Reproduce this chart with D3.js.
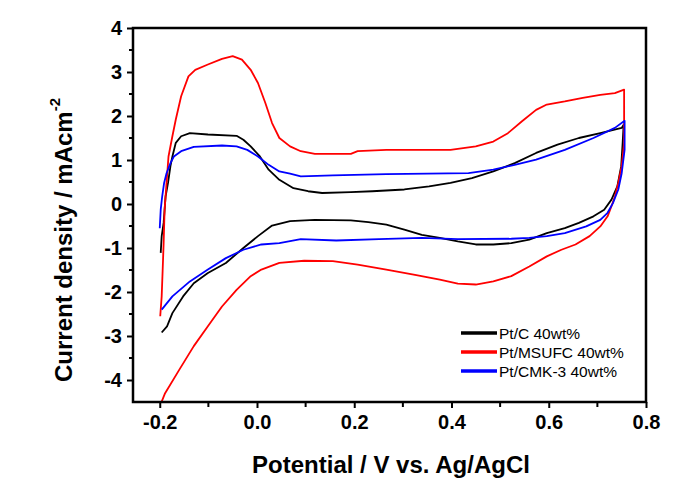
<!DOCTYPE html>
<html><head><meta charset="utf-8">
<script src="https://cdn.jsdelivr.net/npm/d3@7"></script>
<style>body{margin:0;background:#fff}svg{display:block}</style>
</head><body>
<svg id="c" width="691" height="498"></svg>
<script>
// Series data: [potential (V), current density (mA cm^-2)]
const ptC = [[-0.198,-1.11],[-0.196,-0.73],[-0.192,-0.43],[-0.19,-0.13],[-0.188,0.17],[-0.183,0.48],[-0.178,0.86],[-0.174,1.08],[-0.167,1.39],[-0.156,1.54],[-0.138,1.61],[-0.101,1.58],[-0.042,1.55],[-0.028,1.46],[-0.013,1.31],[0.006,1.08],[0.024,0.78],[0.046,0.55],[0.075,0.36],[0.105,0.29],[0.134,0.25],[0.193,0.27],[0.237,0.29],[0.303,0.33],[0.354,0.40],[0.398,0.48],[0.442,0.59],[0.486,0.74],[0.53,0.93],[0.574,1.16],[0.618,1.35],[0.662,1.5],[0.706,1.61],[0.75,1.73],[0.754,1.8],[0.752,1.39],[0.749,0.86],[0.741,0.4],[0.729,0.1],[0.714,-0.13],[0.692,-0.28],[0.662,-0.43],[0.633,-0.55],[0.596,-0.66],[0.56,-0.81],[0.523,-0.89],[0.486,-0.92],[0.45,-0.92],[0.413,-0.85],[0.376,-0.77],[0.339,-0.70],[0.303,-0.58],[0.266,-0.47],[0.229,-0.41],[0.193,-0.37],[0.119,-0.36],[0.068,-0.39],[0.031,-0.49],[0.002,-0.73],[-0.028,-1.0],[-0.064,-1.34],[-0.101,-1.57],[-0.13,-1.8],[-0.152,-2.1],[-0.174,-2.48],[-0.185,-2.78],[-0.196,-2.92]];
const ptMSUFC = [[-0.199,-2.55],[-0.196,-2.1],[-0.194,-1.5],[-0.192,-0.89],[-0.19,-0.13],[-0.186,0.48],[-0.182,1.08],[-0.174,1.54],[-0.167,1.92],[-0.156,2.45],[-0.141,2.9],[-0.127,3.05],[-0.101,3.17],[-0.072,3.3],[-0.05,3.36],[-0.031,3.28],[-0.013,3.05],[0.002,2.75],[0.017,2.3],[0.031,1.84],[0.046,1.5],[0.068,1.31],[0.09,1.2],[0.119,1.14],[0.193,1.14],[0.207,1.2],[0.266,1.23],[0.34,1.23],[0.398,1.23],[0.45,1.31],[0.486,1.42],[0.516,1.61],[0.545,1.88],[0.574,2.14],[0.596,2.26],[0.633,2.33],[0.67,2.41],[0.706,2.48],[0.736,2.52],[0.755,2.6],[0.755,1.39],[0.75,0.86],[0.743,0.48],[0.736,0.17],[0.729,-0.05],[0.721,-0.28],[0.706,-0.51],[0.684,-0.73],[0.655,-0.92],[0.626,-1.04],[0.596,-1.19],[0.56,-1.42],[0.523,-1.64],[0.486,-1.76],[0.45,-1.83],[0.413,-1.81],[0.376,-1.72],[0.325,-1.61],[0.266,-1.49],[0.207,-1.38],[0.156,-1.3],[0.097,-1.29],[0.046,-1.34],[0.009,-1.49],[-0.013,-1.64],[-0.042,-1.95],[-0.072,-2.33],[-0.101,-2.78],[-0.13,-3.23],[-0.16,-3.77],[-0.189,-4.3],[-0.2,-4.6]];
const ptCMK3 = [[-0.2,-0.55],[-0.198,-0.13],[-0.195,0.17],[-0.191,0.48],[-0.186,0.7],[-0.178,0.93],[-0.171,1.08],[-0.156,1.2],[-0.13,1.3],[-0.072,1.33],[-0.042,1.31],[-0.02,1.23],[0.002,1.08],[0.024,0.89],[0.046,0.74],[0.068,0.69],[0.09,0.63],[0.156,0.65],[0.266,0.68],[0.435,0.70],[0.486,0.78],[0.53,0.89],[0.574,1.01],[0.633,1.23],[0.692,1.5],[0.736,1.73],[0.756,1.89],[0.756,1.23],[0.75,0.7],[0.743,0.33],[0.732,0.02],[0.721,-0.2],[0.706,-0.36],[0.677,-0.51],[0.633,-0.66],[0.596,-0.73],[0.56,-0.77],[0.523,-0.79],[0.413,-0.8],[0.339,-0.77],[0.251,-0.8],[0.163,-0.83],[0.09,-0.8],[0.046,-0.89],[0.009,-0.92],[-0.028,-1.04],[-0.064,-1.23],[-0.101,-1.49],[-0.138,-1.76],[-0.174,-2.1],[-0.196,-2.4]];

const seriesNames = ["Pt/C 40wt%", "Pt/MSUFC 40wt%", "Pt/CMK-3 40wt%"];
const seriesColors = ["#000000", "#ff0000", "#0000ff"];
const seriesData = [ptC, ptMSUFC, ptCMK3];

const xTicks = [-0.2, 0.0, 0.2, 0.4, 0.6, 0.8];
const xTickLabels = ["-0.2", "0.0", "0.2", "0.4", "0.6", "0.8"];
const xMinor = [-0.1, 0.1, 0.3, 0.5, 0.7];
const yTicks = [-4, -3, -2, -1, 0, 1, 2, 3, 4];
const yTickLabels = ["-4", "-3", "-2", "-1", "0", "1", "2", "3", "4"];
const yMinor = [-3.5, -2.5, -1.5, -0.5, 0.5, 1.5, 2.5, 3.5];

const L = 133, R = 646, T = 28, B = 402;
const svg = d3.select("#c");
const x = d3.scaleLinear().domain([-0.255, 0.8]).range([L, R]);
const y = d3.scaleLinear().domain([-4.5, 4]).range([B, T]);

svg.append("defs").append("clipPath").attr("id", "clip")
  .append("rect").attr("x", L).attr("y", T).attr("width", R - L).attr("height", B - T);

const line = d3.line().x(d => x(d[0])).y(d => y(d[1]));
const g = svg.append("g").attr("clip-path", "url(#clip)");
seriesData.forEach((s, i) => {
  g.append("path").datum(s).attr("d", line)
    .attr("fill", "none").attr("stroke", seriesColors[i])
    .attr("stroke-width", 1.8).attr("stroke-linejoin", "round");
});

const font = "'Liberation Sans', Arial, sans-serif";
// X axis
const xAxis = d3.axisBottom(x).tickValues(xTicks).tickFormat((d, i) => xTickLabels[i]).tickSizeInner(6).tickSizeOuter(0).tickPadding(7);
const gx = svg.append("g").attr("transform", `translate(0,${B})`).call(xAxis);
gx.selectAll("text").attr("font-family", font).attr("font-size", 20).attr("font-weight", "bold").attr("fill", "#000");
gx.selectAll("line").attr("stroke-width", 2);
gx.select(".domain").remove();
svg.append("g").attr("transform", `translate(0,${B})`).selectAll("line").data(xMinor).join("line")
  .attr("x1", d => x(d)).attr("x2", d => x(d)).attr("y1", 0).attr("y2", 5)
  .attr("stroke", "#000").attr("stroke-width", 2);

// Y axis
const yAxis = d3.axisLeft(y).tickValues(yTicks).tickFormat((d, i) => yTickLabels[i]).tickSizeInner(6).tickSizeOuter(0).tickPadding(5);
const gy = svg.append("g").attr("transform", `translate(${L},0)`).call(yAxis);
gy.selectAll("text").attr("font-family", font).attr("font-size", 20).attr("font-weight", "bold").attr("fill", "#000");
gy.selectAll("line").attr("stroke-width", 2);
gy.select(".domain").remove();
svg.append("g").attr("transform", `translate(${L},0)`).selectAll("line").data(yMinor).join("line")
  .attr("x1", 0).attr("x2", -4).attr("y1", d => y(d)).attr("y2", d => y(d))
  .attr("stroke", "#000").attr("stroke-width", 2);

// Frame
svg.append("rect").attr("x", L).attr("y", T).attr("width", R - L).attr("height", B - T)
  .attr("fill", "none").attr("stroke", "#000").attr("stroke-width", 2.5);

// Axis titles
svg.append("text").attr("x", 391).attr("y", 473).attr("text-anchor", "middle")
  .attr("font-family", font).attr("font-size", 24).attr("font-weight", "bold")
  .text("Potential / V vs. Ag/AgCl");
const yt = svg.append("text").attr("transform", `translate(72,240) rotate(-90)`)
  .attr("text-anchor", "middle").attr("font-family", font).attr("font-size", 24).attr("font-weight", "bold");
yt.append("tspan").text("Current density / mAcm");
yt.append("tspan").attr("font-size", 15).attr("dy", -12).text("-2");

// Legend
const lg = svg.append("g");
seriesNames.forEach((n, i) => {
  const yy = 333 + i * 19;
  lg.append("line").attr("x1", 461).attr("x2", 497).attr("y1", yy).attr("y2", yy)
    .attr("stroke", seriesColors[i]).attr("stroke-width", 3.5);
  lg.append("text").attr("x", 499).attr("y", yy + 5.5).attr("font-family", font)
    .attr("font-size", 15.5).attr("fill", "#000").text(n);
});
</script>
</body></html>
